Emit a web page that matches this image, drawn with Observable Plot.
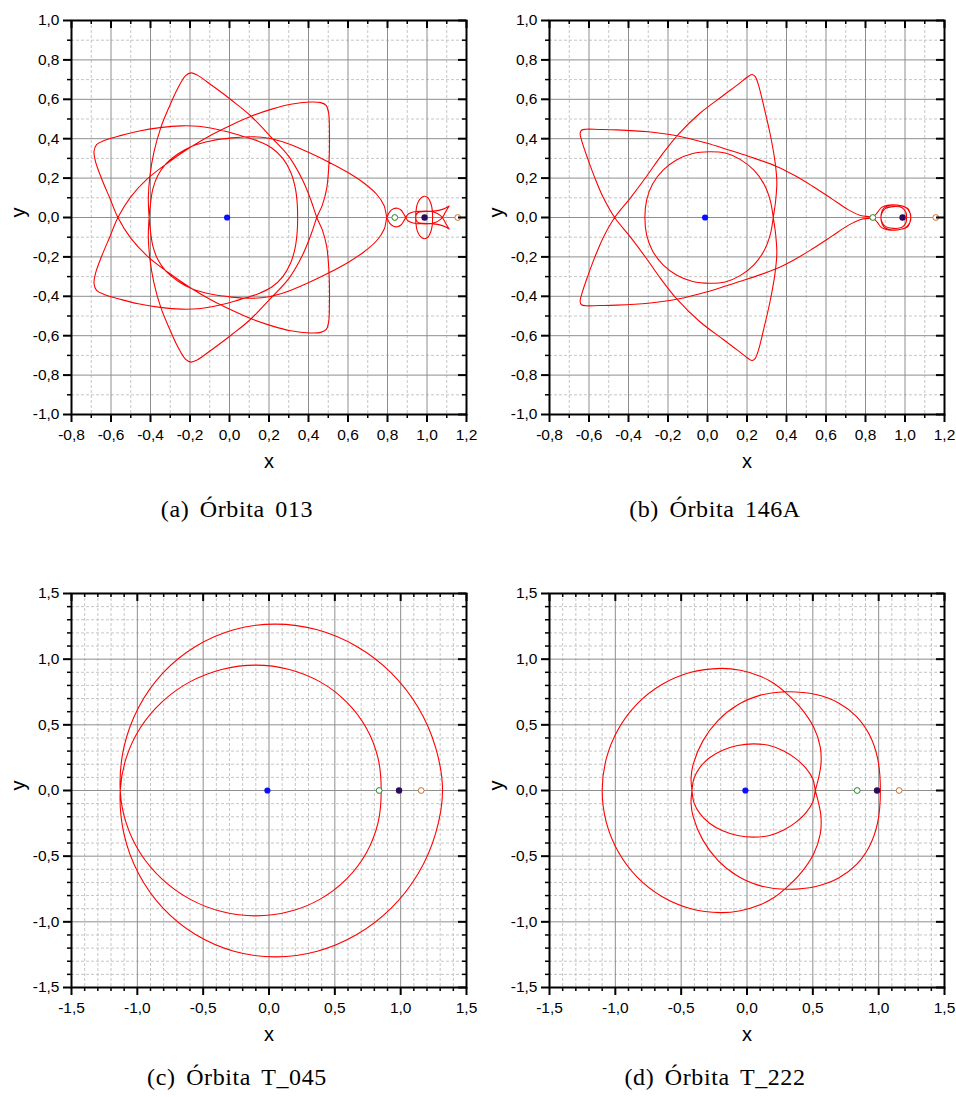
<!DOCTYPE html>
<html>
<head>
<meta charset="utf-8">
<script src="https://cdn.jsdelivr.net/npm/d3@7"></script>
<script src="https://cdn.jsdelivr.net/npm/@observablehq/plot@0.6"></script>
<style>
  body { margin: 0; background: #fff; width: 956px; height: 1097px; position: relative; overflow: hidden; }
  .panel { position: absolute; }
  .cap { position: absolute; width: 478px; text-align: center; font-family: "Liberation Serif", "Times New Roman", serif;
         font-size: 24px; line-height: 28px; letter-spacing: 0.6px; word-spacing: 4px; color: #000; }
</style>
</head>
<body>
<script>
// Primaries and libration points (Earth–Moon system, rotating frame)
const earth = [[-0.0122, 0]];
const moon = [[0.9878, 0]];
const l1 = [[0.8369, 0]];
const l2 = [[1.1557, 0]];

// Axis ticks
const ticksA = [-0.8, -0.6, -0.4, -0.2, 0, 0.2, 0.4, 0.6, 0.8, 1.0, 1.2];
const ticksAMinor = [-0.7, -0.5, -0.3, -0.1, 0.1, 0.3, 0.5, 0.7, 0.9, 1.1];
const ticksAY = [-1.0, -0.8, -0.6, -0.4, -0.2, 0, 0.2, 0.4, 0.6, 0.8, 1.0];
const ticksAYMinor = [-0.9, -0.7, -0.5, -0.3, -0.1, 0.1, 0.3, 0.5, 0.7, 0.9];
const ticksC = [-1.5, -1.0, -0.5, 0, 0.5, 1.0, 1.5];
const ticksCMinor = [-1.4, -1.3, -1.2, -1.1, -0.9, -0.8, -0.7, -0.6, -0.4, -0.3, -0.2, -0.1,
                     0.1, 0.2, 0.3, 0.4, 0.6, 0.7, 0.8, 0.9, 1.1, 1.2, 1.3, 1.4];

// Orbit 013: outbound half and return half
const orbit013Out = [
  [0.345, 0], [0.343, 0.07], [0.333, 0.15], [0.31, 0.23], [0.27, 0.30], [0.214, 0.353], [0.146, 0.387],
  [0.078, 0.409], [-0.006, 0.434], [-0.09, 0.453], [-0.158, 0.463], [-0.242, 0.465], [-0.352, 0.456],
  [-0.462, 0.438], [-0.547, 0.417], [-0.631, 0.392], [-0.673, 0.37], [-0.686, 0.335], [-0.678, 0.282],
  [-0.648, 0.198], [-0.605, 0.096], [-0.565, 0], [-0.5, -0.105], [-0.415, -0.197], [-0.31, -0.279],
  [-0.2, -0.355], [-0.09, -0.42], [0.01, -0.47], [0.112, -0.515], [0.214, -0.55], [0.31, -0.575],
  [0.408, -0.586], [0.462, -0.583], [0.49, -0.568], [0.502, -0.53], [0.506, -0.434], [0.504, -0.282],
  [0.492, -0.147], [0.47, -0.063], [0.442, 0], [0.415, 0.08], [0.37, 0.19], [0.30, 0.31], [0.214, 0.404],
  [0.104, 0.519], [0.011, 0.595], [-0.09, 0.671], [-0.165, 0.724], [-0.195, 0.734], [-0.222, 0.72],
  [-0.263, 0.654], [-0.302, 0.569], [-0.347, 0.459], [-0.383, 0.33], [-0.403, 0.21], [-0.411, 0.1],
  [-0.407, 0], [-0.4, -0.07], [-0.388, -0.145], [-0.363, -0.213], [-0.322, -0.272], [-0.262, -0.322],
  [-0.19, -0.362], [-0.09, -0.39], [0.011, -0.404], [0.112, -0.41], [0.2, -0.402], [0.29, -0.377],
  [0.391, -0.335], [0.501, -0.282], [0.6, -0.228], [0.68, -0.175], [0.745, -0.118], [0.783, -0.06],
  [0.797, 0], [0.812, 0.03], [0.83, 0.044], [0.85, 0.047], [0.868, 0.038], [0.882, 0.018], [0.893, 0],
  [0.905, -0.018], [0.93, -0.028], [0.97, -0.032], [1.01, -0.032], [1.045, -0.024], [1.065, -0.012],
  [1.078, 0], [1.092, 0.025], [1.105, 0.047], [1.112, 0.058], [1.095, 0.048], [1.06, 0.036], [1.02, 0.031],
  [0.98, 0.03], [0.955, 0.025], [0.945, 0.012], [0.943, 0], [0.944, -0.03], [0.95, -0.065], [0.965, -0.095],
  [0.985, -0.108], [1.005, -0.1], [1.02, -0.07], [1.027, -0.035], [1.028, 0]
];
const orbit013Back = [
  [1.027, 0.035], [1.02, 0.07], [1.005, 0.1], [0.985, 0.108], [0.965, 0.095], [0.95, 0.065], [0.944, 0.03],
  [0.943, 0], [0.945, -0.012], [0.955, -0.025], [0.98, -0.03], [1.02, -0.031], [1.06, -0.036], [1.095, -0.048],
  [1.112, -0.058], [1.105, -0.047], [1.092, -0.025], [1.078, 0], [1.065, 0.012], [1.045, 0.024], [1.01, 0.032],
  [0.97, 0.032], [0.93, 0.028], [0.905, 0.018], [0.893, 0], [0.882, -0.018], [0.868, -0.038], [0.85, -0.047],
  [0.83, -0.044], [0.812, -0.03], [0.797, 0], [0.783, 0.06], [0.745, 0.118], [0.68, 0.175], [0.6, 0.228],
  [0.501, 0.282], [0.391, 0.335], [0.29, 0.377], [0.2, 0.402], [0.112, 0.41], [0.011, 0.404], [-0.09, 0.39],
  [-0.19, 0.362], [-0.262, 0.322], [-0.322, 0.272], [-0.363, 0.213], [-0.388, 0.145], [-0.4, 0.07],
  [-0.407, 0], [-0.411, -0.1], [-0.403, -0.21], [-0.383, -0.33], [-0.347, -0.459], [-0.302, -0.569],
  [-0.263, -0.654], [-0.222, -0.72], [-0.195, -0.734], [-0.165, -0.724], [-0.09, -0.671], [0.011, -0.595],
  [0.104, -0.519], [0.214, -0.404], [0.30, -0.31], [0.37, -0.19], [0.415, -0.08], [0.442, 0], [0.47, 0.063],
  [0.492, 0.147], [0.504, 0.282], [0.506, 0.434], [0.502, 0.53], [0.49, 0.568], [0.462, 0.583], [0.408, 0.586],
  [0.31, 0.575], [0.214, 0.55], [0.112, 0.515], [0.01, 0.47], [-0.09, 0.42], [-0.2, 0.355], [-0.31, 0.279],
  [-0.415, 0.197], [-0.5, 0.105], [-0.565, 0], [-0.605, -0.096], [-0.648, -0.198], [-0.678, -0.282],
  [-0.686, -0.335], [-0.673, -0.37], [-0.631, -0.392], [-0.547, -0.417], [-0.462, -0.438], [-0.352, -0.456],
  [-0.242, -0.465], [-0.158, -0.463], [-0.09, -0.453], [-0.006, -0.434], [0.078, -0.409], [0.146, -0.387],
  [0.214, -0.353], [0.27, -0.30], [0.31, -0.23], [0.333, -0.15], [0.343, -0.07]
];

// Orbit 146A
const orbit146Out = [
  [-0.317, 0], [-0.308, 0.09], [-0.278, 0.17], [-0.225, 0.24], [-0.155, 0.293], [-0.075, 0.325], [0.01, 0.334],
  [0.09, 0.327], [0.165, 0.295], [0.235, 0.24], [0.287, 0.168], [0.318, 0.086], [0.333, 0], [0.345, -0.085],
  [0.351, -0.181], [0.342, -0.282], [0.318, -0.42], [0.285, -0.565], [0.258, -0.673], [0.242, -0.715],
  [0.226, -0.726], [0.208, -0.717], [0.15, -0.672], [0.078, -0.618], [-0.04, -0.528], [-0.15, -0.42],
  [-0.235, -0.313], [-0.31, -0.207], [-0.39, -0.1], [-0.47, 0], [-0.527, 0.1], [-0.57, 0.2], [-0.607, 0.3],
  [-0.634, 0.38], [-0.645, 0.425], [-0.638, 0.443], [-0.615, 0.448], [-0.55, 0.447], [-0.46, 0.445],
  [-0.3, 0.435], [-0.15, 0.414], [-0.006, 0.378], [0.1, 0.345], [0.21, 0.31], [0.344, 0.262], [0.442, 0.213],
  [0.53, 0.16], [0.628, 0.096], [0.712, 0.04], [0.775, 0.01], [0.835, 0],
  [0.86, -0.025], [0.88, -0.05], [0.91, -0.062], [0.96, -0.063], [1.005, -0.05], [1.027, -0.02], [1.028, 0.01],
  [1.015, 0.045], [0.98, 0.06], [0.93, 0.062], [0.895, 0.05], [0.88, 0.02], [0.882, -0.02], [0.9, -0.045],
  [0.94, -0.055], [0.985, -0.05], [1.005, -0.025], [1.008, 0]
];
const orbit146Back = [
  [1.005, 0.025], [0.985, 0.05], [0.94, 0.055], [0.9, 0.045], [0.882, 0.02], [0.88, -0.02], [0.895, -0.05],
  [0.93, -0.062], [0.98, -0.06], [1.015, -0.045], [1.028, -0.01], [1.027, 0.02], [1.005, 0.05], [0.96, 0.063],
  [0.91, 0.062], [0.88, 0.05], [0.86, 0.025], [0.835, 0], [0.775, -0.01], [0.712, -0.04], [0.628, -0.096],
  [0.53, -0.16], [0.442, -0.213], [0.344, -0.262], [0.21, -0.31], [0.1, -0.345], [-0.006, -0.378],
  [-0.15, -0.414], [-0.3, -0.435], [-0.46, -0.445], [-0.55, -0.447], [-0.615, -0.448], [-0.638, -0.443],
  [-0.645, -0.425], [-0.634, -0.38], [-0.607, -0.3], [-0.57, -0.2], [-0.527, -0.1], [-0.47, 0], [-0.39, 0.1],
  [-0.31, 0.207], [-0.235, 0.313], [-0.15, 0.42], [-0.04, 0.528], [0.078, 0.618], [0.15, 0.672],
  [0.208, 0.717], [0.226, 0.726], [0.242, 0.715], [0.258, 0.673], [0.285, 0.565], [0.318, 0.42],
  [0.342, 0.282], [0.351, 0.181], [0.345, 0.085], [0.333, 0], [0.318, -0.086], [0.287, -0.168],
  [0.235, -0.24], [0.165, -0.295], [0.09, -0.327], [0.01, -0.334], [-0.075, -0.325], [-0.155, -0.293],
  [-0.225, -0.24], [-0.278, -0.17], [-0.308, -0.09]
];

// Orbit T_045: outer arc above, inner loop, outer arc below
const orbitT045 = [
  [1.318, 0], [1.265, 0.328], [1.132, 0.634], [0.928, 0.896], [0.667, 1.097], [0.367, 1.224], [0.049, 1.267],
  [-0.267, 1.224], [-0.558, 1.097], [-0.805, 0.896], [-0.99, 0.634], [-1.102, 0.328], [-1.13, 0],
  [-1.085, -0.247], [-0.977, -0.478], [-0.812, -0.675], [-0.601, -0.827], [-0.359, -0.922], [-0.101, -0.955],
  [0.154, -0.922], [0.389, -0.827], [0.588, -0.675], [0.738, -0.478], [0.828, -0.247], [0.852, 0],
  [0.828, 0.247], [0.738, 0.478], [0.588, 0.675], [0.389, 0.827], [0.154, 0.922], [-0.101, 0.955],
  [-0.359, 0.922], [-0.601, 0.827], [-0.812, 0.675], [-0.977, 0.478], [-1.085, 0.247], [-1.13, 0],
  [-1.102, -0.328], [-0.99, -0.634], [-0.805, -0.896], [-0.558, -1.097], [-0.267, -1.224], [0.049, -1.267],
  [0.367, -1.224], [0.667, -1.097], [0.928, -0.896], [1.132, -0.634], [1.265, -0.328]
];

// Orbit T_222: medium, small and large loops
const orbitT222 = [
  [1.013, 0], [0.992, 0.244], [0.931, 0.422], [0.832, 0.563], [0.696, 0.667], [0.524, 0.731], [0.29, 0.752],
  [0.103, 0.726], [-0.072, 0.651], [-0.221, 0.532], [-0.336, 0.376], [-0.41, 0.195], [-0.425, 0.093], [-0.418, 0],
  [-0.403, -0.092], [-0.356, -0.178], [-0.282, -0.251], [-0.185, -0.307], [-0.071, -0.343], [0.05, -0.355],
  [0.171, -0.343], [0.275, -0.303], [0.368, -0.245], [0.447, -0.17], [0.5, -0.088], [0.519, 0],
  [0.545, 0.101], [0.562, 0.203], [0.557, 0.329], [0.507, 0.481], [0.405, 0.633], [0.291, 0.747], [0.205, 0.815],
  [0.1, 0.87], [-0.05, 0.915], [-0.2, 0.93], [-0.433, 0.898], [-0.65, 0.805], [-0.836, 0.658], [-0.979, 0.465],
  [-1.069, 0.241], [-1.1, 0],
  [-1.069, -0.241], [-0.979, -0.465], [-0.836, -0.658], [-0.65, -0.805], [-0.433, -0.898], [-0.2, -0.93],
  [-0.05, -0.915], [0.1, -0.87], [0.205, -0.815], [0.291, -0.747], [0.405, -0.633], [0.507, -0.481],
  [0.557, -0.329], [0.562, -0.203], [0.545, -0.101], [0.519, 0],
  [0.5, 0.088], [0.447, 0.17], [0.368, 0.245], [0.275, 0.303], [0.171, 0.343], [0.05, 0.355], [-0.071, 0.343],
  [-0.185, 0.307], [-0.282, 0.251], [-0.356, 0.178], [-0.403, 0.092], [-0.418, 0],
  [-0.425, -0.093], [-0.41, -0.195], [-0.336, -0.376], [-0.221, -0.532], [-0.072, -0.651], [0.103, -0.726],
  [0.29, -0.752], [0.524, -0.731], [0.696, -0.667], [0.832, -0.563], [0.931, -0.422], [0.992, -0.244]
];

const captions = ["(a) Órbita 013", "(b) Órbita 146A", "(c) Órbita T_045", "(d) Órbita T_222"];

const fmt = d => d.toFixed(1).replace(".", ",");
const px = d => d[0], py = d => d[1];

function orbitPlot({orbit, xDomain, yDomain, xMajor, xMinor, yMajor, yMinor, marginTop}) {
  const innerW = 395, innerH = 394, marginBottom = 56;
  return Plot.plot({
    width: 478,
    height: marginTop + innerH + marginBottom,
    marginLeft: 71, marginRight: 12, marginTop, marginBottom,
    x: {domain: xDomain, label: null},
    y: {domain: yDomain, label: null},
    style: {fontFamily: "'Liberation Sans', Arial, sans-serif", fontSize: "15.5px", background: "transparent", overflow: "visible"},
    marks: [
      Plot.ruleX(xMinor, {stroke: "#c6c6c6", strokeDasharray: "3,2"}),
      Plot.ruleY(yMinor, {stroke: "#c6c6c6", strokeDasharray: "3,2"}),
      Plot.ruleX(xMajor, {stroke: "#8e8e8e"}),
      Plot.ruleY(yMajor, {stroke: "#8e8e8e"}),
      Plot.line(orbit, {x: px, y: py, stroke: "#ff0000", strokeWidth: 1.1, curve: "catmull-rom-closed"}),
      Plot.dot(earth, {x: px, y: py, r: 3.1, fill: "#0a10ff", stroke: "none"}),
      Plot.dot(moon, {x: px, y: py, r: 3.2, fill: "#2c0b5c", stroke: "none"}),
      Plot.dot(l1, {x: px, y: py, r: 2.9, fill: "#fff", stroke: "#23862a", strokeWidth: 1}),
      Plot.dot(l2, {x: px, y: py, r: 2.9, fill: "#fff", stroke: "#c8702e", strokeWidth: 1}),
      Plot.frame({stroke: "#000", strokeWidth: 2}),
      Plot.ruleX(xMajor, {insetBottom: innerH - 8, stroke: "#000", strokeWidth: 2}),
      Plot.ruleX(xMinor, {insetBottom: innerH - 4, stroke: "#000", strokeWidth: 1.5}),
      Plot.ruleY(yMajor, {insetLeft: innerW - 8, stroke: "#000", strokeWidth: 2}),
      Plot.ruleY(yMinor, {insetLeft: innerW - 4, stroke: "#000", strokeWidth: 1.5}),
      Plot.axisX({ticks: xMajor, tickSize: 8, tickPadding: 6, tickFormat: fmt, strokeWidth: 2, label: null}),
      Plot.axisX({ticks: xMinor, tickSize: 4, tickFormat: () => "", strokeWidth: 1.5, label: null}),
      Plot.axisY({ticks: yMajor, tickSize: 8, tickPadding: 4, tickFormat: fmt, strokeWidth: 2, label: null}),
      Plot.axisY({ticks: yMinor, tickSize: 4, tickFormat: () => "", strokeWidth: 1.5, label: null}),
      Plot.text(["x"], {text: d => d, frameAnchor: "bottom", dy: 53, fontSize: 20}),
      Plot.text(["y"], {text: d => d, frameAnchor: "left", dx: -53, rotate: -90, fontSize: 20})
    ]
  });
}

const panels = [
  {orbit: orbit013Out.concat(orbit013Back), xDomain: [-0.8, 1.2], yDomain: [-1, 1],
   xMajor: ticksA, xMinor: ticksAMinor, yMajor: ticksAY, yMinor: ticksAYMinor, marginTop: 20, left: 0, top: 0, capTop: 495},
  {orbit: orbit146Out.concat(orbit146Back), xDomain: [-0.8, 1.2], yDomain: [-1, 1],
   xMajor: ticksA, xMinor: ticksAMinor, yMajor: ticksAY, yMinor: ticksAYMinor, marginTop: 20, left: 478, top: 0, capTop: 495},
  {orbit: orbitT045, xDomain: [-1.5, 1.5], yDomain: [-1.5, 1.5],
   xMajor: ticksC, xMinor: ticksCMinor, yMajor: ticksC, yMinor: ticksCMinor, marginTop: 21, left: 0, top: 572, capTop: 1063},
  {orbit: orbitT222, xDomain: [-1.5, 1.5], yDomain: [-1.5, 1.5],
   xMajor: ticksC, xMinor: ticksCMinor, yMajor: ticksC, yMinor: ticksCMinor, marginTop: 21, left: 478, top: 572, capTop: 1063}
];

panels.forEach((p, i) => {
  const wrap = document.createElement("div");
  wrap.className = "panel";
  wrap.style.left = p.left + "px";
  wrap.style.top = p.top + "px";
  wrap.appendChild(orbitPlot(p));
  document.body.appendChild(wrap);
  const cap = document.createElement("div");
  cap.className = "cap";
  cap.style.left = (p.left - 2) + "px";
  cap.style.top = p.capTop + "px";
  cap.textContent = captions[i];
  document.body.appendChild(cap);
});
</script>
</body>
</html>
